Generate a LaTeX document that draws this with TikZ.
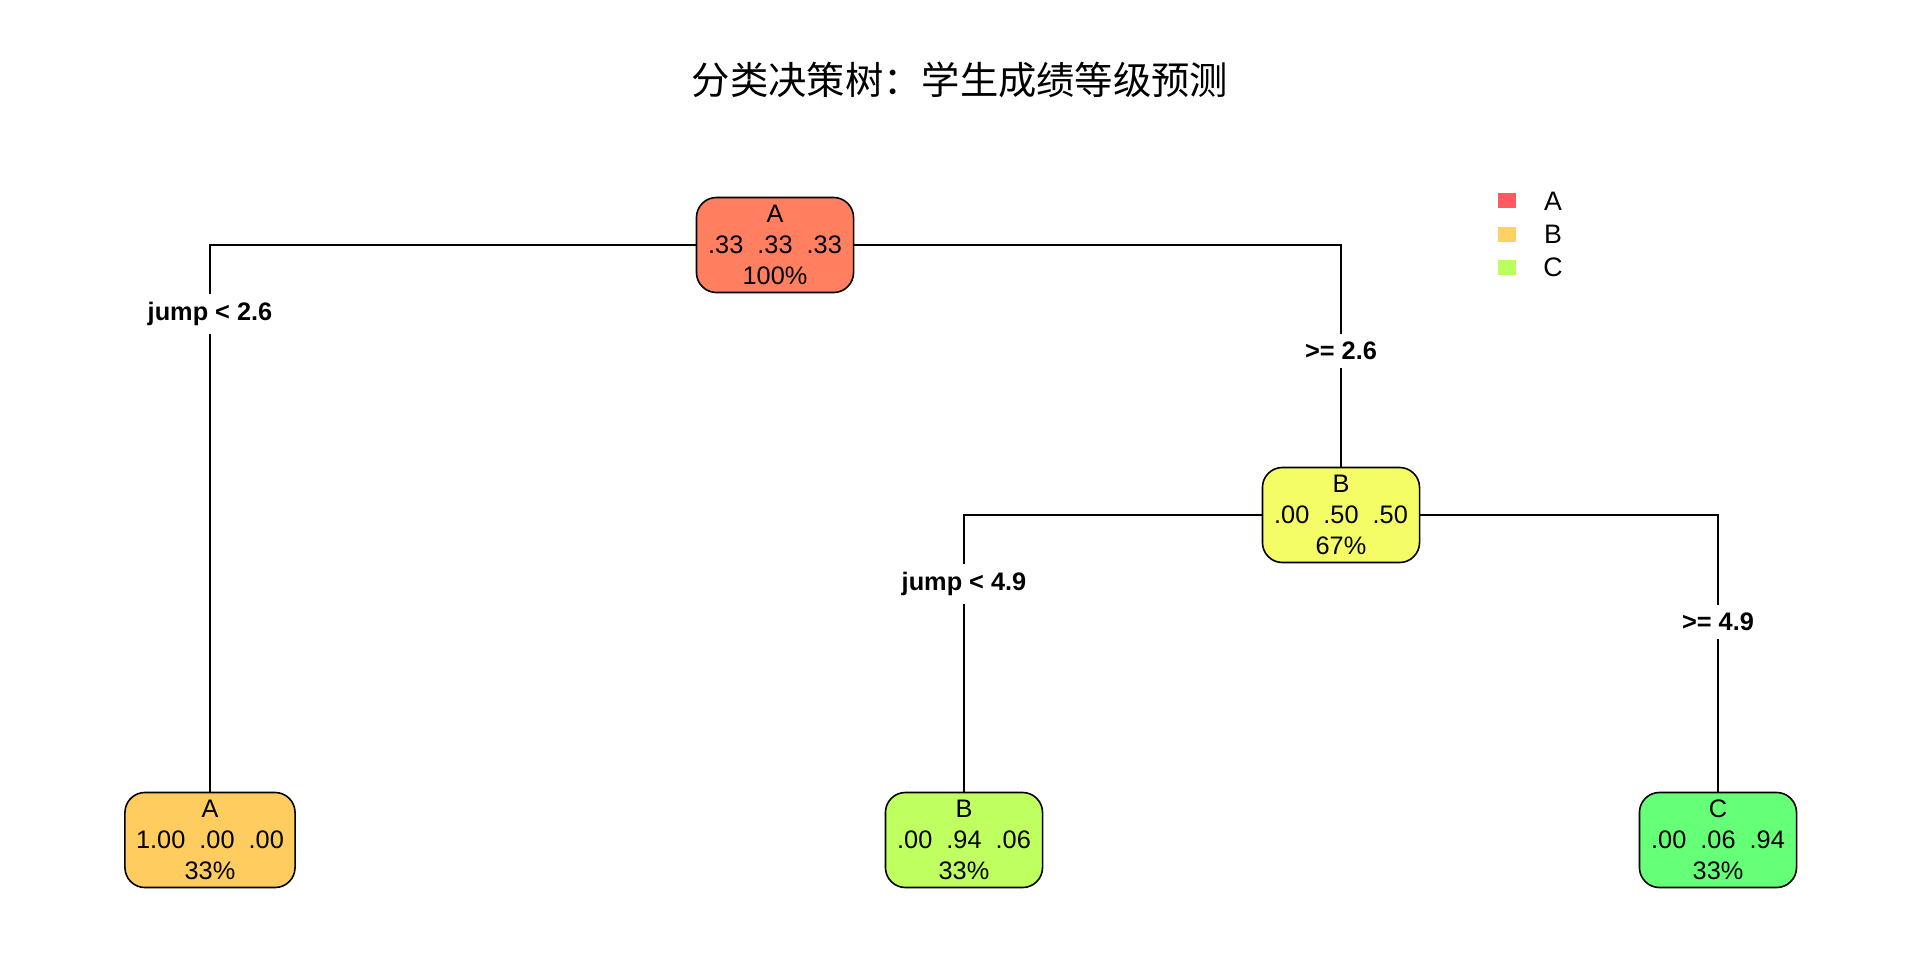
\documentclass[tikz,border=0pt]{standalone}
\usepackage{fontspec}
\setmainfont{Liberation Sans}
\newfontfamily\cjk{Noto Sans CJK SC}
\definecolor{rootfill}{HTML}{FF7F60}
\definecolor{midfill}{HTML}{F4FD66}
\definecolor{leafAfill}{HTML}{FFCC60}
\definecolor{leafBfill}{HTML}{BFFF60}
\definecolor{leafCfill}{HTML}{66FF78}
\definecolor{keyA}{HTML}{FF5A5F}
\definecolor{keyB}{HTML}{FFD163}
\definecolor{keyC}{HTML}{BBFF5F}
\begin{document}
\begin{tikzpicture}[x=0.01cm,y=-0.01cm,
    box/.style={draw,line width=0.45pt,rounded corners=0.2cm,minimum width=1.57cm,
      minimum height=0.95cm,align=center,inner sep=0pt,
      font=\fontsize{7.2}{8.8}\selectfont},
    split/.style={fill=white,inner xsep=0.03cm,inner ysep=0.08cm,
      font=\fontsize{7.2}{8}\selectfont\bfseries},
    key/.style={minimum width=0.18cm,minimum height=0.15cm,inner sep=0pt},
    keytext/.style={anchor=center,font=\fontsize{7.6}{8}\selectfont}]
  \fill[white] (0,0) rectangle (1920,960);
  \useasboundingbox (0,0) rectangle (1920,960);
  \node[font=\cjk\fontsize{10.9}{12}\selectfont] (title) at (960,80) {分类决策树：学生成绩等级预测};
  % tree
  \node[box,fill=rootfill] (root) at (775,245) {A\\.33\ \ .33\ \ .33\\100\%};
  \node[box,fill=midfill] (mid) at (1341,515) {B\\.00\ \ .50\ \ .50\\67\%};
  \node[box,fill=leafAfill,minimum width=1.70cm] (leafA) at (210,840) {A\\1.00\ \ .00\ \ .00\\33\%};
  \node[box,fill=leafBfill] (leafB) at (964,840) {B\\.00\ \ .94\ \ .06\\33\%};
  \node[box,fill=leafCfill] (leafC) at (1718,840) {C\\.00\ \ .06\ \ .94\\33\%};
  \draw [line width=0.45pt] (root.west) -| (leafA.north);
  \draw [line width=0.45pt] (root.east) -| (mid.north);
  \draw [line width=0.45pt] (mid.west) -| (leafB.north);
  \draw [line width=0.45pt] (mid.east) -| (leafC.north);
  \node[split] (s1) at (210,314) {jump < 2.6};
  \node[split] (s2) at (1341,351) {>= 2.6};
  \node[split] (s3) at (964,584) {jump < 4.9};
  \node[split] (s4) at (1718,622) {>= 4.9};
  % legend
  \node[key,fill=keyA] (kA) at (1507,200) {};
  \node[key,fill=keyB] (kB) at (1507,234) {};
  \node[key,fill=keyC] (kC) at (1507,267) {};
  \node[keytext] (tA) at (1553,201) {A};
  \node[keytext] (tB) at (1553,234) {B};
  \node[keytext] (tC) at (1553,267) {C};
\end{tikzpicture}
\end{document}
